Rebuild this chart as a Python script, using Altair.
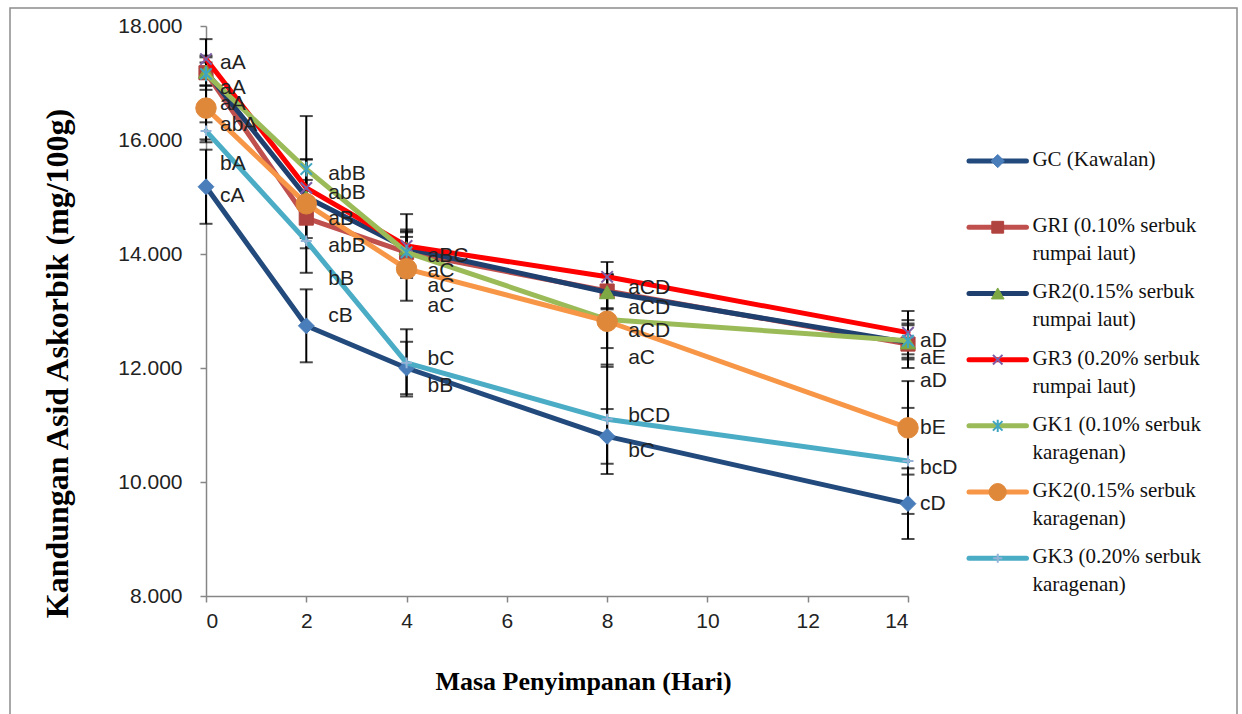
import altair as alt
import pandas as pd

# ---------------- data ----------------
days = [0, 2, 4, 8, 14]
keys = ["GC", "GRI", "GR2", "GR3", "GK1", "GK2", "GK3"]
legend_labels = [
    "GC (Kawalan)",
    "GRI (0.10% serbuk\nrumpai laut)",
    "GR2(0.15% serbuk\nrumpai laut)",
    "GR3 (0.20% serbuk\nrumpai laut)",
    "GK1 (0.10% serbuk\nkaragenan)",
    "GK2(0.15% serbuk\nkaragenan)",
    "GK3 (0.20% serbuk\nkaragenan)",
]
gc_vals = [15.18, 12.74, 12.00, 10.80, 9.62]
gr1_vals = [17.18, 14.63, 14.03, 13.35, 12.42]
gr2_vals = [17.20, 15.00, 14.10, 13.33, 12.45]
gr3_vals = [17.42, 15.16, 14.14, 13.60, 12.62]
gk1_vals = [17.16, 15.49, 14.03, 12.85, 12.48]
gk2_vals = [16.56, 14.88, 13.74, 12.82, 10.95]
gk3_vals = [16.16, 14.23, 12.09, 11.10, 10.37]

gc_err = [0.65, 0.64, 0.46, 0.48, 0.62]
gr1_err = [0.30, 0.35, 0.40, 0.30, 0.42]
gr2_err = [0.25, 0.30, 0.30, 0.30, 0.30]
gr3_err = [0.35, 0.50, 0.56, 0.26, 0.38]
gk1_err = [0.20, 0.93, 0.35, 0.50, 0.30]
gk2_err = [0.60, 0.78, 0.56, 0.80, 0.82]
gk3_err = [0.15, 0.56, 0.59, 0.96, 0.93]

# significance letters (day, value position, text)
lab_day = [0] * 6 + [2] * 6 + [4] * 6 + [8] * 6 + [14] * 6
lab_val = [17.35, 16.91, 16.63, 16.27, 15.58, 15.02,
           15.40, 15.07, 14.61, 14.14, 13.56, 12.91,
           13.96, 13.70, 13.44, 13.09, 12.16, 11.68,
           13.40, 13.05, 12.65, 12.18, 11.16, 10.54,
           12.47, 12.18, 11.77, 10.95, 10.25, 9.61]
lab_text = ["aA", "aA", "aA", "abA", "bA", "cA",
            "abB", "abB", "aB", "abB", "bB", "cB",
            "aBC", "aC", "aC", "aC", "bC", "bB",
            "aCD", "aCD", "aCD", "aC", "bCD", "bC",
            "aD", "aE", "aD", "bE", "bcD", "cD"]

values = [gc_vals, gr1_vals, gr2_vals, gr3_vals, gk1_vals, gk2_vals, gk3_vals]
errors = [gc_err, gr1_err, gr2_err, gr3_err, gk1_err, gk2_err, gk3_err]

# ---------------- styles ----------------
line_colors = ["#234A7C", "#C0504D", "#1F3F6E", "#FF0000", "#9BBB59", "#F79646", "#4BACC6"]
X_PATH = "M-1,-1L1,1M1,-1L-1,1"
AST_PATH = "M-1,-1L1,1M1,-1L-1,1M0,-1.3L0,1.3"
PLUS_PATH = "M-1,0L1,0M0,-1L0,1"
marker_style = {
    "GC": dict(shape="diamond", color="#4A7EBB", size=250, filled=True),
    "GRI": dict(shape="square", color="#B0433F", size=200, filled=True),
    "GR2": dict(shape="triangle-up", color="#7DA843", size=230, filled=True),
    "GR3": dict(shape=X_PATH, color="#7E5FA6", size=130, filled=False),
    "GK1": dict(shape=AST_PATH, color="#3FA5C0", size=130, filled=False),
    "GK2": dict(shape="circle", color="#E0883A", size=420, filled=True),
    "GK3": dict(shape=PLUS_PATH, color="#95B3D7", size=120, filled=False),
}

rows = []
for k, vals, errs in zip(keys, values, errors):
    for d, v, e in zip(days, vals, errs):
        rows.append(dict(series=k, day=d, value=v, lo=round(v - e, 3), hi=round(v + e, 3)))
df = pd.DataFrame(rows)
lab_df = pd.DataFrame({"day": lab_day, "value": lab_val, "text": lab_text})

x_scale = alt.Scale(domain=[0, 14], nice=False, zero=False)
y_scale = alt.Scale(domain=[8, 18], nice=False, zero=False)
axis_common = dict(grid=False, domainColor="#868686", tickColor="#868686", tickSize=6,
                   domainWidth=1.5, tickWidth=1.5,
                   labelFont="Liberation Sans", labelFontSize=21, labelColor="#222222",
                   titleFont="Liberation Serif", titleFontWeight="bold", titleColor="#000000")
x_axis = alt.Axis(values=[0, 2, 4, 6, 8, 10, 12, 14], title="Masa Penyimpanan (Hari)",
                  titleFontSize=26, labelPadding=8, titleX=377, titleY=85,
                  titleBaseline="middle", **axis_common)
y_axis = alt.Axis(values=[8, 10, 12, 14, 16, 18], format=".3f",
                  title="Kandungan Asid Askorbik (mg/100g)", titleFontSize=32,
                  labelPadding=18, titleX=-149, titleY=337, titleBaseline="middle",
                  **axis_common)

X = alt.X("day:Q", scale=x_scale, axis=x_axis)
Y = alt.Y("value:Q", scale=y_scale, axis=y_axis)

base = alt.Chart(df)

# outer chart-area frame (decorative border like the original)
frame = alt.Chart(pd.DataFrame({"f": [0]})).mark_rect(
    fill="transparent", stroke="#8C8C8C", strokeWidth=1.5
).encode(x=alt.value(-196), x2=alt.value(1031), y=alt.value(-18), y2=alt.value(700))

err_rule = base.mark_rule(color="black", strokeWidth=2).encode(
    x=X, y=alt.Y("lo:Q", scale=y_scale, axis=y_axis), y2="hi:Q")
cap_lo = base.mark_tick(color="black", thickness=2, size=13, orient="horizontal").encode(
    x=X, y=alt.Y("lo:Q", scale=y_scale, axis=y_axis))
cap_hi = base.mark_tick(color="black", thickness=2, size=13, orient="horizontal").encode(
    x=X, y=alt.Y("hi:Q", scale=y_scale, axis=y_axis))

layers = [err_rule, cap_lo, cap_hi]
for k, col in zip(keys, line_colors):
    sub = base.transform_filter(alt.datum.series == k)
    layers.append(sub.mark_line(color=col, strokeWidth=5, strokeCap="round",
                                strokeJoin="round").encode(x=X, y=Y))
    st = marker_style[k]
    if st["filled"]:
        pt = sub.mark_point(shape=st["shape"], size=st["size"], filled=True,
                            fill=st["color"], stroke=st["color"], strokeWidth=1, opacity=1)
    else:
        pt = sub.mark_point(shape=st["shape"], size=st["size"], filled=False,
                            stroke=st["color"], strokeWidth=2, opacity=1)
    layers.append(pt.encode(x=X, y=Y))

label_dx = {0: 14, 2: 22, 4: 21, 8: 21, 14: 12}
for d, dx in label_dx.items():
    layers.append(
        alt.Chart(lab_df).transform_filter(alt.datum.day == d)
        .mark_text(align="left", baseline="middle", dx=dx, font="Liberation Sans",
                   fontSize=21, color="#222222")
        .encode(x=X, y=Y, text="text:N")
    )
layers.append(frame)

main = alt.layer(*layers).properties(width=702, height=570)

# ---------------- legend panel ----------------
leg_df = pd.DataFrame({"key": keys, "label": legend_labels, "idx": list(range(len(keys)))})
leg_base = alt.Chart(leg_df).transform_calculate(a="0", m="0.5", b="1")
lx_scale = alt.Scale(domain=[0, 4.7], nice=False, zero=False)
ly = alt.Y("idx:Q", scale=alt.Scale(domain=[-2.04, 6.57], nice=False, zero=False, reverse=True),
           axis=None)
leg_layers = []
for k, col in zip(keys, line_colors):
    sub = leg_base.transform_filter(alt.datum.key == k)
    leg_layers.append(sub.mark_rule(color=col, strokeWidth=5, strokeCap="round").encode(
        x=alt.X("a:Q", scale=lx_scale, axis=None), x2="b:Q", y=ly))
    st = marker_style[k]
    sz = st["size"] * 0.7
    if st["filled"]:
        pt = sub.mark_point(shape=st["shape"], size=sz, filled=True, fill=st["color"],
                            stroke=st["color"], strokeWidth=1, opacity=1)
    else:
        pt = sub.mark_point(shape=st["shape"], size=sz, filled=False, stroke=st["color"],
                            strokeWidth=2, opacity=1)
    leg_layers.append(pt.encode(x=alt.X("m:Q", scale=lx_scale, axis=None), y=ly))
leg_layers.append(
    leg_base.mark_text(align="left", baseline="top", dx=6, dy=-12, lineBreak="\n",
                       lineHeight=28, font="Liberation Serif", fontSize=21, color="#111111")
    .encode(x=alt.X("b:Q", scale=lx_scale, axis=None), y=ly, text="label:N")
)
legend_panel = alt.layer(*leg_layers).properties(
    width=270, height=570, view=alt.ViewBackground(stroke="transparent", strokeWidth=0))

chart = (
    alt.hconcat(main, legend_panel, spacing=61, bounds="flush")
    .properties(padding={"left": 9, "top": 7, "right": 0, "bottom": 0})
    .configure(background="white")
    .configure_view(stroke="transparent", strokeWidth=0)
)

chart.save("out.html", embed_options={"renderer": "svg", "actions": False})
